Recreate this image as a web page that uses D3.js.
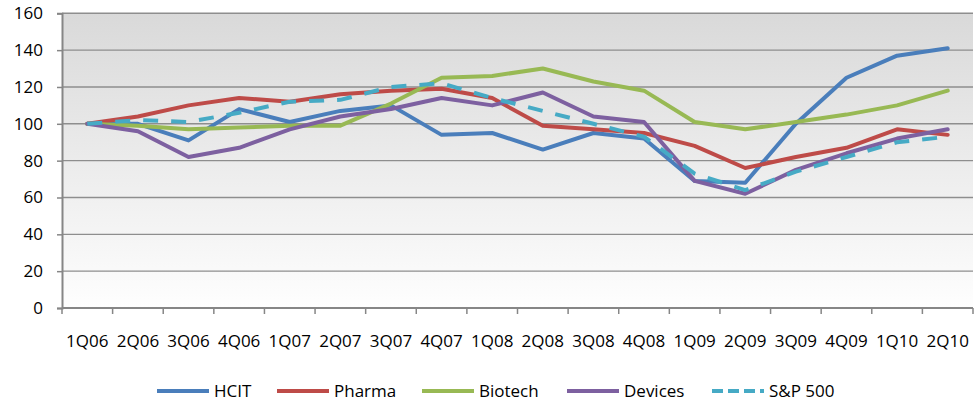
<!DOCTYPE html>
<html>
<head>
<meta charset="utf-8">
<script src="https://cdn.jsdelivr.net/npm/d3@7"></script>
<style>
  html, body { margin: 0; padding: 0; background: #fff; }
  svg { display: block; font-family: "Open Sans", "Lato", sans-serif; }
</style>
</head>
<body>
<svg id="chart" width="979" height="402"></svg>
<script>
// ── data ──────────────────────────────────────────────
const quarters = ["1Q06","2Q06","3Q06","4Q06","1Q07","2Q07","3Q07","4Q07","1Q08",
                  "2Q08","3Q08","4Q08","1Q09","2Q09","3Q09","4Q09","1Q10","2Q10"];
const hcit    = [100, 100, 91, 108, 101, 107, 110, 94, 95, 86, 95, 92, 69, 68, 100, 125, 137, 141];
const pharma  = [100, 104, 110, 114, 112, 116, 118, 119, 114, 99, 97, 95, 88, 76, 82, 87, 97, 94];
const biotech = [100, 99, 97, 98, 99, 99, 111, 125, 126, 130, 123, 118, 101, 97, 101, 105, 110, 118];
const devices = [100, 96, 82, 87, 97, 104, 108, 114, 110, 117, 104, 101, 69, 62, 75, 84, 92, 97];
const sp500   = [100, 102, 101, 106, 112, 113, 120, 122, 114, 107, 100, 93, 73, 64, 74, 82, 90, 93];
const yTicks  = [0, 20, 40, 60, 80, 100, 120, 140, 160];

const seriesNames  = ["HCIT", "Pharma", "Biotech", "Devices", "S&P 500"];
const seriesValues = [hcit, pharma, biotech, devices, sp500];
const seriesColors = ["#4a7ebb", "#be4b48", "#98b954", "#7d60a0", "#46aac5"];

// ── layout ────────────────────────────────────────────
const plot = { left: 62, right: 973, top: 13.3, bottom: 308 };
const svg = d3.select("#chart");

const x = d3.scaleBand().domain(quarters).range([plot.left, plot.right]).padding(0);
const y = d3.scaleLinear().domain([0, 160]).range([plot.bottom, plot.top]);

// background gradient
const defs = svg.append("defs");
const grad = defs.append("linearGradient").attr("id", "bg")
    .attr("x1", 0).attr("y1", 0).attr("x2", 0).attr("y2", 1);
grad.append("stop").attr("offset", "0%").attr("stop-color", "#d9d9d9");
grad.append("stop").attr("offset", "100%").attr("stop-color", "#fefefe");

svg.append("rect")
    .attr("x", plot.left).attr("y", plot.top)
    .attr("width", plot.right - plot.left).attr("height", plot.bottom - plot.top)
    .attr("fill", "url(#bg)");

// gridlines
svg.append("g").selectAll("line")
    .data(yTicks.filter(d => d > 0)).enter().append("line")
    .attr("x1", plot.left).attr("x2", plot.right)
    .attr("y1", d => y(d)).attr("y2", d => y(d))
    .attr("stroke", "#8e8e8e").attr("stroke-width", 1.4);

// y axis
const yAxis = svg.append("g")
    .attr("transform", `translate(${plot.left},0)`)
    .call(d3.axisLeft(y).tickValues(yTicks).tickSize(5).tickPadding(14));
yAxis.select(".domain").attr("stroke", "#868686").attr("stroke-width", 2);
yAxis.selectAll(".tick line").attr("stroke", "#868686").attr("stroke-width", 1.5);
yAxis.selectAll(".tick text").attr("font-size", 17).attr("fill", "#000")
    .attr("font-family", "'Open Sans', sans-serif");

// x axis: tick marks on band edges, labels at centres
const xAxis = svg.append("g").attr("transform", `translate(0,${plot.bottom})`);
xAxis.append("line")
    .attr("x1", plot.left).attr("x2", plot.right)
    .attr("stroke", "#868686").attr("stroke-width", 2);
const edges = quarters.map(q => x(q)).concat([x(quarters[quarters.length - 1]) + x.bandwidth()]);
xAxis.selectAll("line.tk").data(edges).enter().append("line")
    .attr("class", "tk")
    .attr("x1", d => d).attr("x2", d => d).attr("y1", 0).attr("y2", 6)
    .attr("stroke", "#868686").attr("stroke-width", 1.5);
xAxis.selectAll("text").data(quarters).enter().append("text")
    .attr("x", d => x(d) + x.bandwidth() / 2).attr("y", 38.5)
    .attr("text-anchor", "middle").attr("font-size", 17).attr("fill", "#000")
    .text(d => d);

// lines
const line = d3.line()
    .x((d, i) => x(quarters[i]) + x.bandwidth() / 2)
    .y(d => y(d));

seriesValues.forEach((vals, k) => {
    svg.append("path")
        .datum(vals)
        .attr("d", line)
        .attr("fill", "none")
        .attr("stroke", seriesColors[k])
        .attr("stroke-width", 4)
        .attr("stroke-linejoin", "round")
        .attr("stroke-linecap", k === 4 ? "butt" : "round")
        .attr("stroke-dasharray", k === 4 ? "15,13" : null);
});

// legend
const legendX = [157, 277, 422, 567, 712];
const legend = svg.append("g").attr("transform", "translate(0,391)");
seriesNames.forEach((name, k) => {
    legend.append("line")
        .attr("x1", legendX[k]).attr("x2", legendX[k] + 52)
        .attr("stroke", seriesColors[k]).attr("stroke-width", 4)
        .attr("stroke-dasharray", k === 4 ? "11,5" : null);
    legend.append("text")
        .attr("x", legendX[k] + 57).attr("y", 6)
        .attr("font-size", 17).attr("fill", "#000")
        .text(name);
});
</script>
</body>
</html>
